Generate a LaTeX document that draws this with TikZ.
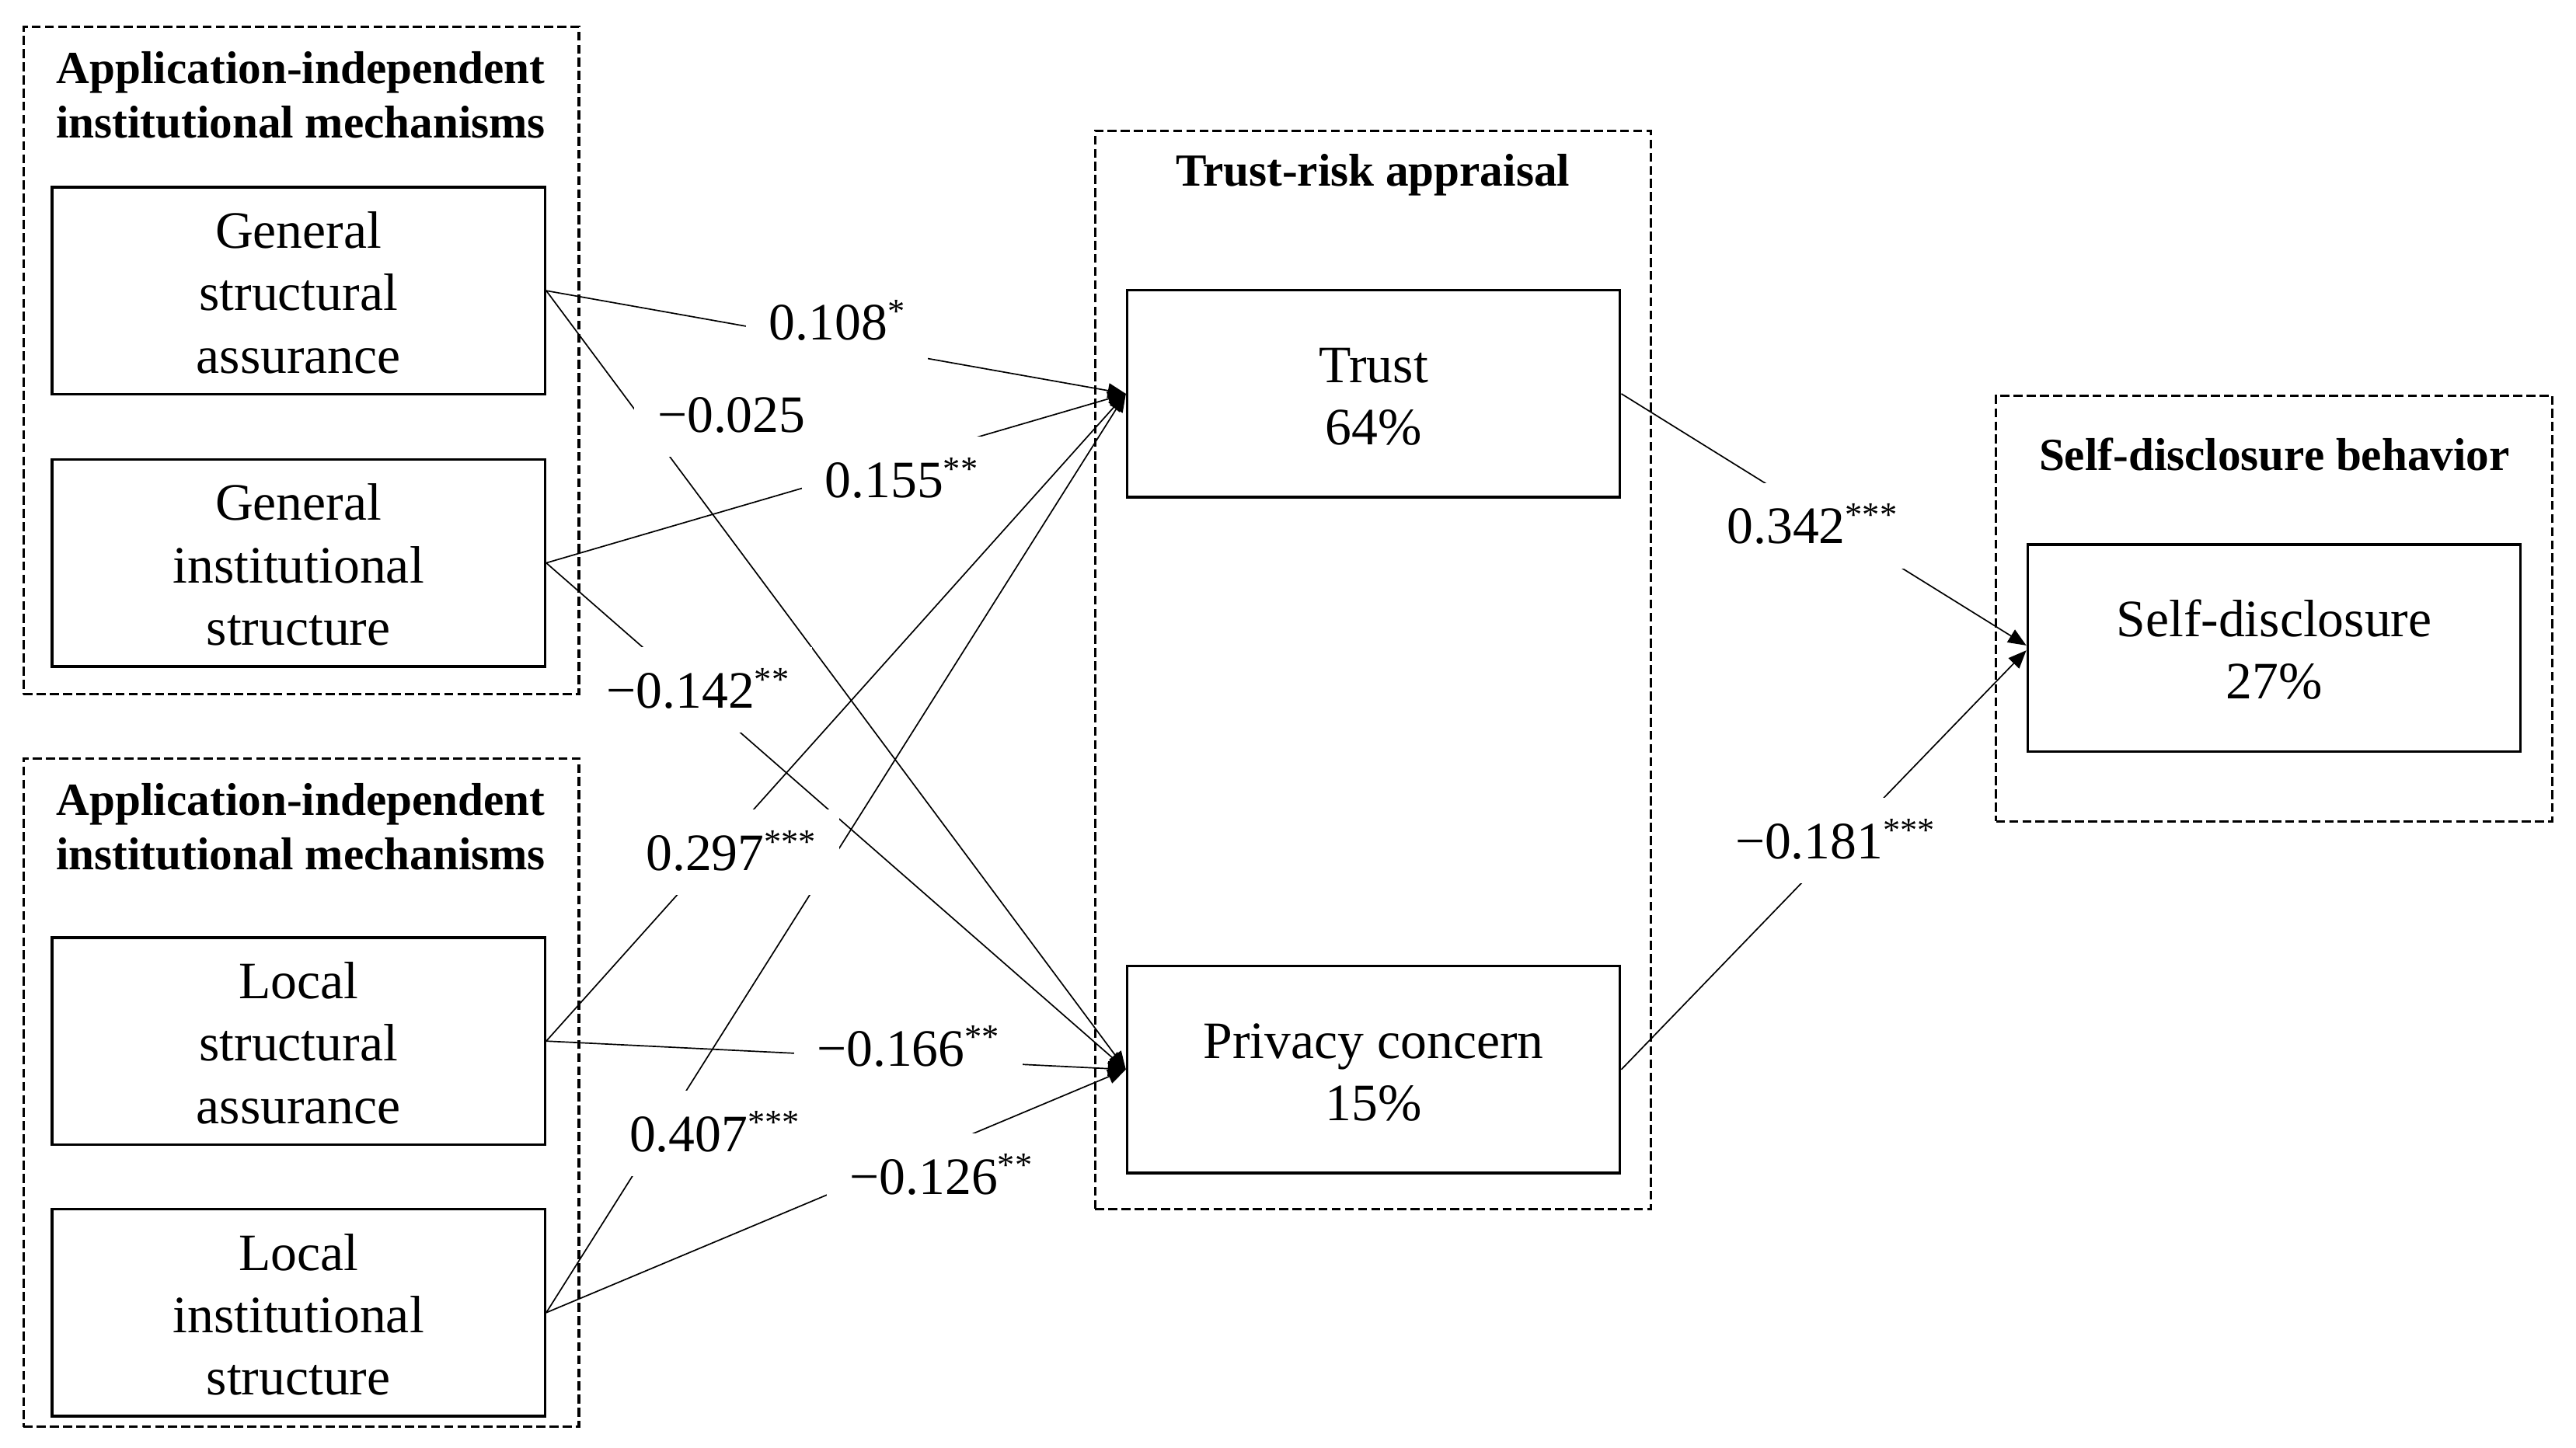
\documentclass[tikz,border=0pt]{standalone}
\usepackage{fontspec}
\setmainfont{Liberation Serif}
\usetikzlibrary{arrows.meta}
\newcommand\sig[1]{\raisebox{10.5pt}{\fontsize{21}{21}\selectfont #1}}
\newcommand\firstline{\rule{0pt}{24.5pt}}
\begin{document}
\begin{tikzpicture}[x=1pt,y=-1pt,
  box/.style={draw, line width=1.6pt, minimum width=300pt, minimum height=126pt, inner sep=0pt, align=center, font=\fontsize{32}{38}\selectfont},
  grp/.style={draw, dash pattern=on 5.5pt off 2.5pt, line width=1.5pt, inner sep=0pt},
  ttl/.style={font=\bfseries\fontsize{28}{33}\selectfont, align=center, inner sep=0pt},
  lbl/.style={fill=white, inner xsep=14pt, inner ysep=15pt, text height=22pt, text depth=0pt, font=\fontsize{32}{38}\selectfont, anchor=base west},
  conn/.style={line width=0.8pt, -{Triangle[length=11pt,width=9pt]}}]
\useasboundingbox (0,0) rectangle (1568,881.2);
% group boxes
\node[grp, minimum width=338pt, minimum height=406.4pt] (g1) at (183.4,219.5) {};
\node[grp, minimum width=338pt, minimum height=407pt] (g2) at (183.4,665.2) {};
\node[grp, minimum width=338.1pt, minimum height=656.8pt] (gm) at (835.65,408) {};
\node[grp, minimum width=338.5pt, minimum height=259.2pt] (gr) at (1384.25,370.4) {};
% titles
\node[ttl] (t1) at (183.1,58) {Application-independent\\institutional mechanisms};
\node[ttl] (t2) at (183.1,503.4) {Application-independent\\institutional mechanisms};
\node[ttl, anchor=base] (tm) at (835.6,113.5) {Trust-risk appraisal};
\node[ttl, anchor=base] (tr) at (1384.4,286.3) {Self-disclosure behavior};
% boxes
\node[box] (gsa) at (181.7,177) {\firstline General\\structural\\assurance};
\node[box] (gis) at (181.7,342.75) {\firstline General\\institutional\\structure};
\node[box] (lsa) at (181.7,633.9) {\firstline Local\\structural\\assurance};
\node[box] (lis) at (181.7,799.25) {\firstline Local\\institutional\\structure};
\node[box] (trust) at (836.1,239.75) {\firstline Trust\\64\%};
\node[box] (priv) at (836.1,651.2) {\firstline Privacy concern\\15\%};
\node[box] (sd) at (1384.2,394.5) {\firstline Self-disclosure\\27\%};
% connectors
\draw[conn] (gsa.east) -- (trust.west);
\draw[conn] (gsa.east) -- (priv.west);
\draw[conn] (gis.east) -- (trust.west);
\draw[conn] (gis.east) -- (priv.west);
\draw[conn] (lsa.east) -- (trust.west);
\draw[conn] (lsa.east) -- (priv.west);
\draw[conn] (lis.east) -- (trust.west);
\draw[conn] (lis.east) -- (priv.west);
\draw[conn] (trust.east) -- ([yshift=1.5pt]sd.west);
\draw[conn] (priv.east) -- ([yshift=-1.5pt]sd.west);
% labels
\node[lbl] (l1) at (454,207) {0.108\sig{*}};
\node[lbl] (l2) at (386,263) {−0.025};
\node[lbl] (l3) at (488,303) {0.155\sig{**}};
\node[lbl] (l4) at (355,431) {−0.142\sig{**}};
\node[lbl] (l5) at (379,530) {0.297\sig{***}};
\node[lbl] (l6) at (483,649) {−0.166\sig{**}};
\node[lbl] (l7) at (369,701) {0.407\sig{***}};
\node[lbl] (l8) at (503,727) {−0.126\sig{**}};
\node[lbl] (l9) at (1037,331) {0.342\sig{***}};
\node[lbl] (l10) at (1042,523) {−0.181\sig{***}};
\end{tikzpicture}
\end{document}
